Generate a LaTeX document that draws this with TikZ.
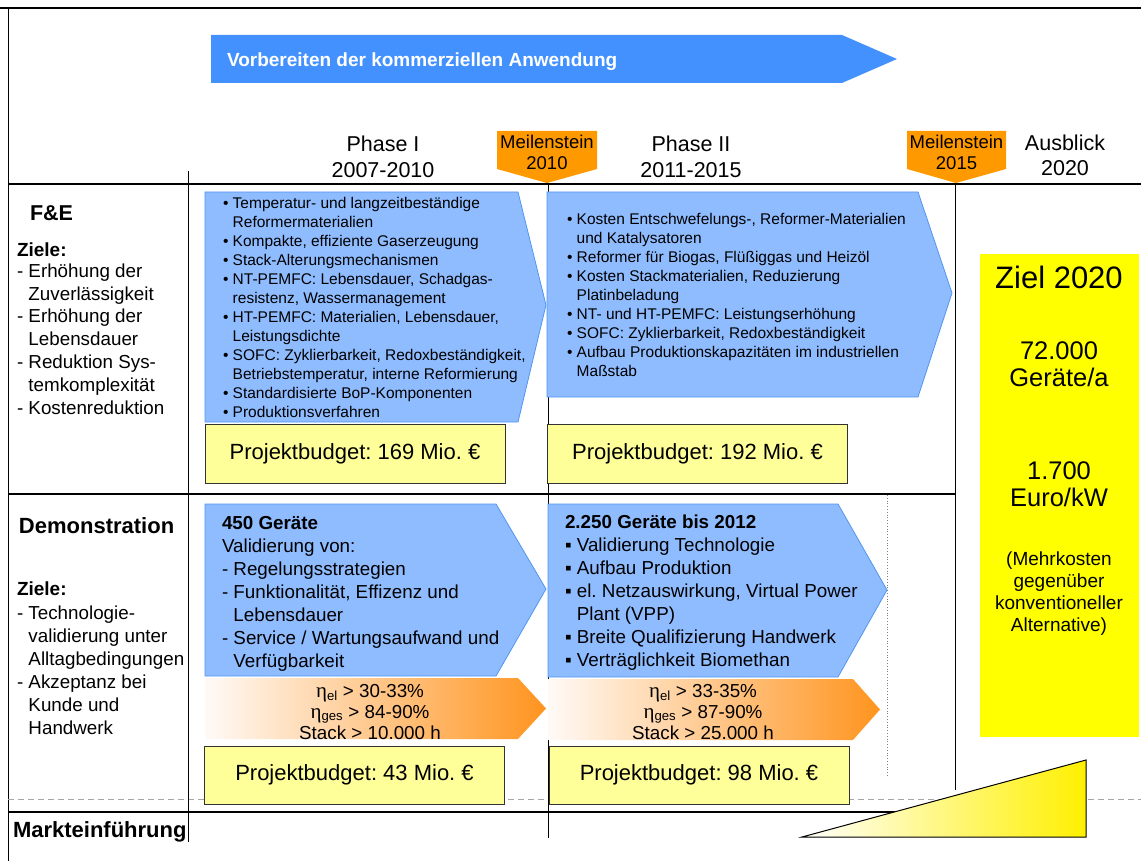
\documentclass[tikz,border=0pt]{standalone}
\usepackage{fontspec}
\setmainfont{Liberation Sans}
\newfontfamily\greekfont{Liberation Serif}
\frenchspacing
\newcommand\fs[2]{\fontsize{#1}{#2}\selectfont}
\newcommand\rowsl[1]{\begin{tabular}[t]{@{}l@{}}#1\end{tabular}}
\newcommand\rowsc[1]{\begin{tabular}[t]{@{}c@{}}#1\end{tabular}}
\newcommand\etasub[1]{{\greekfont\fontsize{21}{21}\selectfont η}\textsubscript{#1}}
\definecolor{arrowblue}{RGB}{67,145,255}
\definecolor{boxblue}{RGB}{143,188,255}
\definecolor{boxblueline}{RGB}{80,150,240}
\definecolor{budgetyellow}{RGB}{255,255,153}
\definecolor{milestone}{RGB}{255,153,0}
\definecolor{goalyellow}{RGB}{255,255,0}
\definecolor{orangeend}{RGB}{255,148,30}
\definecolor{orangemid}{RGB}{252,205,175}
\definecolor{orangestart}{RGB}{255,250,247}
\definecolor{triyellow}{RGB}{255,240,0}
\tikzset{
  txt/.style={inner sep=0pt, outer sep=0pt, anchor=base west},
  ctxt/.style={inner sep=0pt, outer sep=0pt, anchor=base},
  mainline/.style={line width=1.5pt, black},
  divline/.style={line width=1pt, black},
  chevron/.style={fill=boxblue, draw=boxblueline, line width=0.8pt},
  budget/.style={fill=budgetyellow, draw=black!80, line width=1pt, minimum width=300pt, minimum height=59pt, inner sep=0pt, font=\fs{22}{26}},
  gradarrow/.style={left color=orangestart, middle color=orangemid, right color=orangeend},
}
\begin{document}
\begin{tikzpicture}[x=1pt, y=-1pt]
\useasboundingbox (0,0) rectangle (1141,861);
% frame lines
\draw[mainline] (0,8) -- (1141,8);
\draw[divline] (8,8) -- (8,861);
\draw[mainline] (8,184) -- (1141,184);
\draw[mainline] (8,494) -- (955,494);
\draw[gray!70, dashed, dash pattern=on 6pt off 4pt, line width=1pt] (8,799) -- (1141,799);
\draw[mainline] (8,812) -- (1086,812);
\draw[divline] (188,171) -- (188,842);
\draw[divline] (548,183) -- (548,838);
\draw[divline] (955,183) -- (955,790);
\draw[gray, dotted, line width=0.8pt] (887,495) -- (887,777);

% top arrow
\fill[arrowblue] (211,35) -- (842,35) -- (897,59) -- (842,83) -- (211,83) -- cycle;
\node[txt, text=white, font=\bfseries\fs{19}{22}] (vorb) at (227,66.5) {Vorbereiten der kommerziellen Anwendung};

% phase headings
\node[ctxt, font=\fs{21.5}{26}] (ph1) at (383,151.5) {\rowsc{Phase I\\2007-2010}};
\node[ctxt, font=\fs{21.5}{26}] (ph2) at (691,151.5) {\rowsc{Phase II\\2011-2015}};
\node[ctxt, font=\fs{21.5}{25}] (ausb) at (1065,150.5) {\rowsc{Ausblick\\2020}};

% milestones
\fill[milestone] (497,131) -- (597,131) -- (597,169) -- (547,183) -- (497,169) -- cycle;
\fill[milestone] (907,131) -- (1006,131) -- (1006,169) -- (956,183) -- (907,169) -- cycle;
\node[ctxt, font=\fs{18.5}{21.5}] (ms1) at (547,148.5) {\rowsc{Meilenstein\\2010}};
\node[ctxt, font=\fs{18.5}{21.5}] (ms2) at (956.5,148.5) {\rowsc{Meilenstein\\2015}};

% left column
\node[txt, font=\bfseries\fs{21.5}{26}] (fe) at (30,221) {F\&E};
\node[txt, font=\bfseries\fs{19}{23}] (ziele1) at (17,257) {Ziele:};
\node[txt, font=\fs{18.8}{23}] (zl1) at (17,277) {\rowsl{- Erhöhung der\\\hphantom{-\ }Zuverlässigkeit\\- Erhöhung der\\\hphantom{-\ }Lebensdauer\\- Reduktion Sys-\\\hphantom{-\ }temkomplexität\\- Kostenreduktion}};
\node[txt, font=\bfseries\fs{22}{26}] (demo) at (19,533) {Demonstration};
\node[txt, font=\bfseries\fs{19}{23}] (ziele2) at (17,595) {Ziele:};
\node[txt, font=\fs{18.8}{23}] (zl2) at (17,619) {\rowsl{- Technologie-\\\hphantom{-\ }validierung unter\\\hphantom{-\ }Alltagbedingungen\\- Akzeptanz bei\\\hphantom{-\ }Kunde und\\\hphantom{-\ }Handwerk}};
\node[txt, font=\bfseries\fs{22}{26}] (markt) at (13,837) {Markteinführung};

% F&E chevrons
\draw[chevron] (205,192) -- (518,192) -- (546,305) -- (518,422) -- (205,422) -- cycle;
\draw[chevron] (547,192) -- (918,192) -- (952,293) -- (918,397) -- (547,397) -- cycle;
\node[txt, font=\fs{15.5}{19}] (fe1) at (223,208.5) {\rowsl{%
• Temperatur- und langzeitbeständige\\
\hphantom{•\ }Reformermaterialien\\
• Kompakte, effiziente Gaserzeugung\\
• Stack-Alterungsmechanismen\\
• NT-PEMFC: Lebensdauer, Schadgas-\\
\hphantom{•\ }resistenz, Wassermanagement\\
• HT-PEMFC: Materialien, Lebensdauer,\\
\hphantom{•\ }Leistungsdichte\\
• SOFC: Zyklierbarkeit, Redoxbeständigkeit,\\
\hphantom{•\ }Betriebstemperatur, interne Reformierung\\
• Standardisierte BoP-Komponenten\\
• Produktionsverfahren}};
\node[txt, font=\fs{15.5}{19}] (fe2) at (567,224.5) {\rowsl{%
• Kosten Entschwefelungs-, Reformer-Materialien\\
\hphantom{•\ }und Katalysatoren\\
• Reformer für Biogas, Flüßiggas und Heizöl\\
• Kosten Stackmaterialien, Reduzierung\\
\hphantom{•\ }Platinbeladung\\
• NT- und HT-PEMFC: Leistungserhöhung\\
• SOFC: Zyklierbarkeit, Redoxbeständigkeit\\
• Aufbau Produktionskapazitäten im industriellen\\
\hphantom{•\ }Maßstab}};

% budgets F&E
\node[budget] (b1) at (355,453.5) {Projektbudget: 169 Mio. €};
\node[budget] (b2) at (697.5,453.5) {Projektbudget: 192 Mio. €};

% Demonstration chevrons
\draw[chevron] (205,504) -- (496,504) -- (546,589) -- (496,676) -- (205,676) -- cycle;
\draw[chevron] (548,504) -- (838,504) -- (887,590) -- (838,677) -- (548,677) -- cycle;
\node[txt, font=\fs{18.8}{23}] (d1) at (222,529) {\rowsl{%
\textbf{450 Geräte}\\
Validierung von:\\
- Regelungsstrategien\\
- Funktionalität, Effizenz und\\
\hphantom{-\ }Lebensdauer\\
- Service / Wartungsaufwand und\\
\hphantom{-\ }Verfügbarkeit}};
\node[txt, font=\fs{18.8}{23}] (d2) at (565,528) {\rowsl{%
\textbf{2.250 Geräte bis 2012}\\
▪ Validierung Technologie\\
▪ Aufbau Produktion\\
▪ el. Netzauswirkung, Virtual Power\\
\hphantom{▪\ }Plant (VPP)\\
▪ Breite Qualifizierung Handwerk\\
▪ Verträglichkeit Biomethan}};

% gradient arrows
\shade[gradarrow] (205,678) -- (518,678) -- (546,708.5) -- (518,739) -- (205,739) -- cycle;
\shade[gradarrow] (548,679) -- (853,679) -- (880,709.5) -- (853,740) -- (548,740) -- cycle;
\node[ctxt, font=\fs{18.8}{21}] (g1) at (370,697) {\rowsc{\etasub{el} > 30-33\%\\\etasub{ges} > 84-90\%\\Stack > 10.000 h}};
\node[ctxt, font=\fs{18.8}{21}] (g2) at (703,697) {\rowsc{\etasub{el} > 33-35\%\\\etasub{ges} > 87-90\%\\Stack > 25.000 h}};

% budgets Demo
\node[budget, minimum height=58pt] (b3) at (354.5,775) {Projektbudget: 43 Mio. €};
\node[budget, minimum height=58pt] (b4) at (699,775) {Projektbudget: 98 Mio. €};

% goal box
\fill[goalyellow] (980,254) rectangle (1139,737);
\node[ctxt, font=\fs{31}{36}] (z1) at (1059,288) {Ziel 2020};
\node[ctxt, font=\fs{25.5}{27}] (z2) at (1059,359) {\rowsc{72.000\\Geräte/a}};
\node[ctxt, font=\fs{25.5}{27}] (z3) at (1059,479) {\rowsc{1.700\\Euro/kW}};
\node[ctxt, font=\fs{19}{22.3}] (z4) at (1059,565) {\rowsc{(Mehrkosten\\gegenüber\\konventioneller\\Alternative)}};

% market triangle
\shade[left color=white, right color=triyellow, draw=black, line width=1pt] (802,837) -- (1086,760) -- (1086,837) -- cycle;
\end{tikzpicture}
\end{document}
